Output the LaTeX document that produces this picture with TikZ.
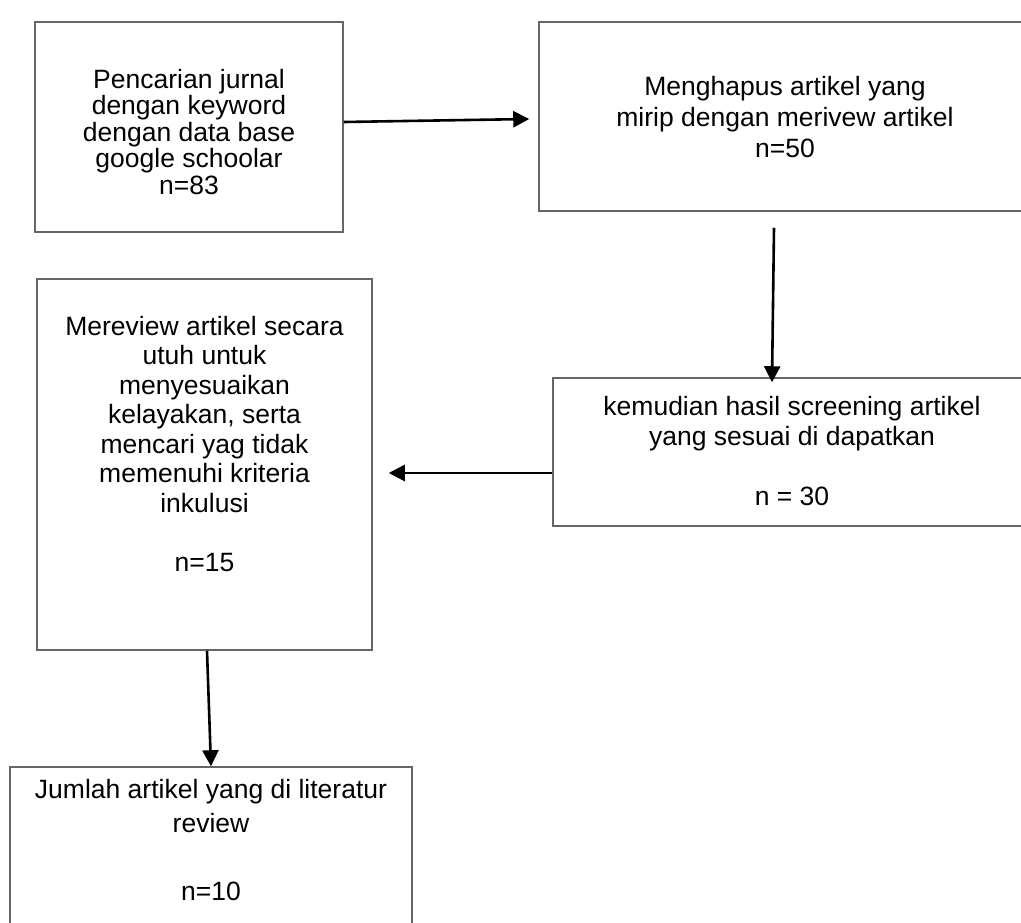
\documentclass[tikz,border=0pt]{standalone}
\usepackage{fontspec}
\setmainfont{Liberation Sans}
\usetikzlibrary{arrows.meta,calc}
\begin{document}
\begin{tikzpicture}[x=1pt,y=-1pt,
  box/.style={draw=black!60,line width=1.5pt,rectangle,inner sep=0pt},
  txt/.style={align=center,inner sep=0pt,anchor=north},
  arr/.style={draw=black,line width=2.6pt,-{Triangle[length=16pt,width=16pt]}}]
\fill[white] (0,0) rectangle (1021,923);
\useasboundingbox (0,0) rectangle (1021,923);
% boxes
\node[box,minimum width=308pt,minimum height=210pt] (A) at (189,127) {};
\node[box,minimum width=492pt,minimum height=189pt] (B) at (785,116.5) {};
\node[box,minimum width=335pt,minimum height=371pt] (C) at (204.5,464.5) {};
\node[box,minimum width=478pt,minimum height=148pt] (D) at (792,452) {};
\node[box,minimum width=402pt,minimum height=193pt] (E) at (211,863.5) {};
% texts
\node[txt,font=\fontsize{26.5}{26.5}\selectfont] (tA) at (189,69) {Pencarian jurnal\\dengan keyword\\dengan data base\\google schoolar\\n=83};
\node[txt,font=\fontsize{26.5}{31}\selectfont] (tB) at (785,76) {Menghapus artikel yang\\mirip dengan merivew artikel\\n=50};
\node[txt,font=\fontsize{26.5}{29.5}\selectfont] (tC) at (204.5,316) {Mereview artikel secara\\utuh untuk\\menyesuaikan\\kelayakan, serta\\mencari yag tidak\\memenuhi kriteria\\inkulusi\\[29.5pt]n=15};
\node[txt,font=\fontsize{26.5}{30}\selectfont] (tD) at (792,396) {kemudian hasil screening artikel\\yang sesuai di dapatkan\\[30pt]n = 30};
\node[txt,font=\fontsize{26.5}{34}\selectfont] (tE) at (211,779) {Jumlah artikel yang di literatur\\review\\[34pt]n=10};
% connectors
\draw[arr] ($(A.east)+(0,-5)$) -- ($(B.west)+(-9,2.5)$);
\draw[arr] ($(B.south)+(-11,16)$) -- ($(D.north)+(-20,5)$);
\draw[arr] ($(D.west)+(0,21)$) -- ($(C.east)+(16,8.5)$);
\draw[arr] ($(C.south)+(2.5,0)$) -- (E.north);
\end{tikzpicture}
\end{document}
